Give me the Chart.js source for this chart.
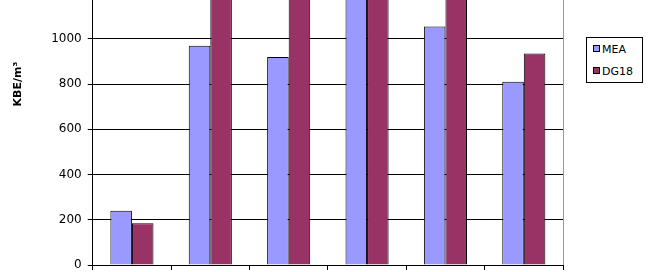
<!DOCTYPE html>
<html>
<head>
<meta charset="utf-8">
<script src="https://cdn.jsdelivr.net/npm/chart.js@4"></script>
<style>
  html, body { margin: 0; padding: 0; background: #fff; overflow: hidden; }
  #wrap { position: relative; width: 669px; height: 272px; overflow: hidden; }
  #chart { position: absolute; left: 0; top: -110px; }
  #legend {
    position: absolute; left: 586px; top: 37px; width: 55px; height: 44px;
    border: 1px solid #000; background: #fff;
    font: 11px "DejaVu Sans", sans-serif; color: #000;
  }
  #legend .row { position: absolute; left: 6px; height: 13px; line-height: 13px; white-space: nowrap; }
  #legend .sw { display: inline-block; width: 5px; height: 5px; border: 1px solid #000; margin-right: 2px; vertical-align: 1px; }
</style>
</head>
<body>
<div id="wrap">
  <canvas id="chart" width="669" height="400"></canvas>
  <div id="legend"></div>
</div>
<script>
// groups along the x axis (their labels sit below the visible crop)
const categories = ['1', '2', '3', '4', '5', '6'];
// KBE/m³ per medium; values above ~1160 are cut off in the picture, estimated
const meaValues  = [240, 970, 920, 1380, 1055, 810];
const dg18Values = [185, 1450, 1290, 1520, 1340, 935];
const seriesNames = ['MEA', 'DG18'];
const seriesColors = ['#9999ff', '#993366'];
const yMax = 1600;
const yStep = 200;
const yTitle = 'KBE/m³';

const plotBorder = {
  id: 'plotBorder',
  beforeDatasetsDraw(chart) {
    const { ctx, chartArea: a } = chart;
    ctx.save();
    ctx.strokeStyle = '#999';
    ctx.lineWidth = 1;
    ctx.beginPath();
    ctx.moveTo(a.right + 0.5, a.top);
    ctx.lineTo(a.right + 0.5, a.bottom);
    ctx.stroke();
    ctx.restore();
  },
};

const chart = new Chart(document.getElementById('chart'), {
  type: 'bar',
  data: {
    labels: categories,
    datasets: [meaValues, dg18Values].map((d, i) => ({
      label: seriesNames[i],
      data: d,
      backgroundColor: seriesColors[i],
      borderColor: '#000',
      borderWidth: 1,
      categoryPercentage: 0.55,
      barPercentage: 1,
    })),
  },
  options: {
    responsive: false,
    animation: false,
    layout: { padding: { left: 4, right: 106, top: 0, bottom: 20 } },
    plugins: { legend: { display: false }, tooltip: { enabled: false } },
    scales: {
      x: {
        ticks: { display: false },
        grid: { drawOnChartArea: false, drawTicks: true, tickLength: 5, color: '#000' },
        border: { color: '#000' },
      },
      y: {
        min: 0,
        max: yMax,
        ticks: {
          stepSize: yStep, color: '#000', padding: 6,
          font: { family: 'DejaVu Sans', size: 12 },
          callback: v => String(v),
        },
        grid: { color: '#000', tickLength: 5 },
        border: { color: '#000' },
        title: {
          display: true,
          text: yTitle,
          color: '#000',
          font: { family: 'DejaVu Sans', size: 11, weight: 'bold' },
          padding: { top: 8, bottom: 20 },
        },
      },
    },
  },
  plugins: [plotBorder],
});

// legend box built from the datasets
const legendEl = document.getElementById('legend');
chart.data.datasets.forEach((ds, i) => {
  const row = document.createElement('div');
  row.className = 'row';
  row.style.top = (5 + i * 22) + 'px';
  row.innerHTML = `<span class="sw" style="background:${ds.backgroundColor}"></span>${ds.label}`;
  legendEl.appendChild(row);
});
</script>
</body>
</html>
